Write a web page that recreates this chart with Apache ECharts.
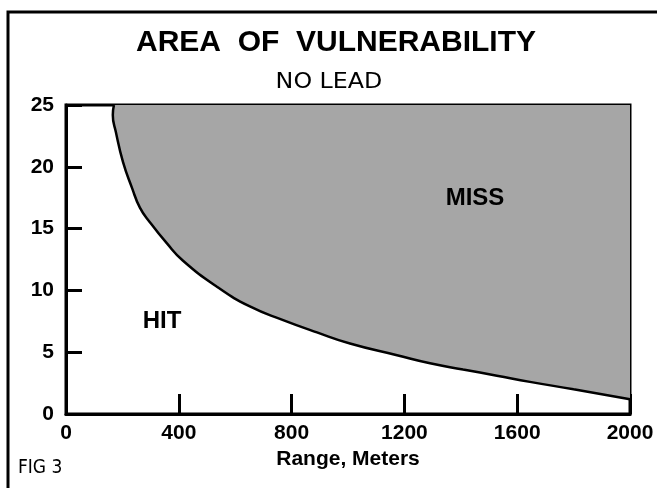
<!DOCTYPE html>
<html>
<head>
<meta charset="utf-8">
<script src="https://cdn.jsdelivr.net/npm/echarts@6/dist/echarts.min.js"></script>
<style>
  html, body { margin: 0; padding: 0; background: #fff; }
  #chart { width: 657px; height: 488px; }
</style>
</head>
<body>
<div id="chart"></div>
<script>
// Area of vulnerability — no lead (hit / miss boundary)
var rangeM = [170, 166, 177, 202, 234, 262, 298, 358, 415, 535, 652, 770, 890, 1007, 1174, 1291, 1408, 1528, 1645, 1800, 2000];
var boundary = [25, 24.2, 22.8, 20.4, 18.3, 16.7, 15.5, 13.8, 12.4, 10.3, 8.7, 7.6, 6.6, 5.7, 4.75, 4.1, 3.6, 3.1, 2.6, 2.0, 1.2];
var xTicks = [0, 400, 800, 1200, 1600, 2000];
var yTicks = [0, 5, 10, 15, 20, 25];

var chart = echarts.init(document.getElementById('chart'));
var font = 'Liberation Sans, Arial, sans-serif';
var narrow = 'Liberation Sans Narrow, DejaVu Sans Condensed, sans-serif';

var pts = rangeM.map(function(x, i) { return [x, boundary[i]]; });

chart.setOption({
  animation: false,
  backgroundColor: '#fff',
  grid: { left: 66, right: 27, top: 105, bottom: 74, show: true, borderColor: '#000', borderWidth: 3 },
  xAxis: {
    type: 'value', min: 0, max: 2000, interval: 400,
    name: 'Range, Meters', nameLocation: 'middle', nameGap: 34,
    nameTextStyle: { fontFamily: font, fontWeight: 'bold', fontSize: 21, color: '#000' },
    axisLine: { lineStyle: { color: '#000', width: 3 } },
    axisTick: { inside: true, length: 20, lineStyle: { color: '#000', width: 3 } },
    axisLabel: { margin: 9, fontFamily: font, fontWeight: 'bold', fontSize: 21, color: '#000',
      formatter: function(v) { return xTicks.indexOf(v) >= 0 ? String(v) : ''; } },
    splitLine: { show: false }
  },
  yAxis: {
    type: 'value', min: 0, max: 25, interval: 5,
    axisLine: { show: true, lineStyle: { color: '#000', width: 3 } },
    axisTick: { show: true, inside: true, length: 16, lineStyle: { color: '#000', width: 3 } },
    axisLabel: { margin: 12, fontFamily: font, fontWeight: 'bold', fontSize: 21, color: '#000',
      formatter: function(v) { return yTicks.indexOf(v) >= 0 ? String(v) : ''; } },
    splitLine: { show: false }
  },
  series: [{
    type: 'line',
    data: pts,
    smooth: 0.5,
    showSymbol: false,
    lineStyle: { color: '#000', width: 2.5 },
    areaStyle: { color: '#a6a6a6', opacity: 1, origin: 'end' },
    z: 1
  }],
  graphic: [
    { type: 'polyline', z: 100, shape: { points: [[8, 488], [8, 12], [657, 12]] },
      style: { stroke: '#000', lineWidth: 3, fill: null } },
    { type: 'text', z: 100, x: 336, y: 43, style: { text: 'AREA  OF  VULNERABILITY', fontFamily: font, fontWeight: 'bold',
      fontSize: 30, fill: '#000', textAlign: 'center', textVerticalAlign: 'middle' } },
    { type: 'text', z: 100, x: 329, y: 82, scaleX: 1.2, style: { text: 'NO LEAD', fontFamily: narrow,
      fontSize: 22, fill: '#000', textAlign: 'center', textVerticalAlign: 'middle' } },
    { type: 'text', z: 100, x: 162, y: 321, style: { text: 'HIT', fontFamily: font, fontWeight: 'bold',
      fontSize: 24, fill: '#000', textAlign: 'center', textVerticalAlign: 'middle' } },
    { type: 'text', z: 100, x: 475, y: 198, style: { text: 'MISS', fontFamily: font, fontWeight: 'bold',
      fontSize: 24, fill: '#000', textAlign: 'center', textVerticalAlign: 'middle' } },
    { type: 'text', z: 100, x: 18, y: 468, style: { text: 'FIG 3', fontFamily: narrow,
      fontSize: 19, fill: '#000', textAlign: 'left', textVerticalAlign: 'middle' } }
  ]
});
</script>
</body>
</html>
